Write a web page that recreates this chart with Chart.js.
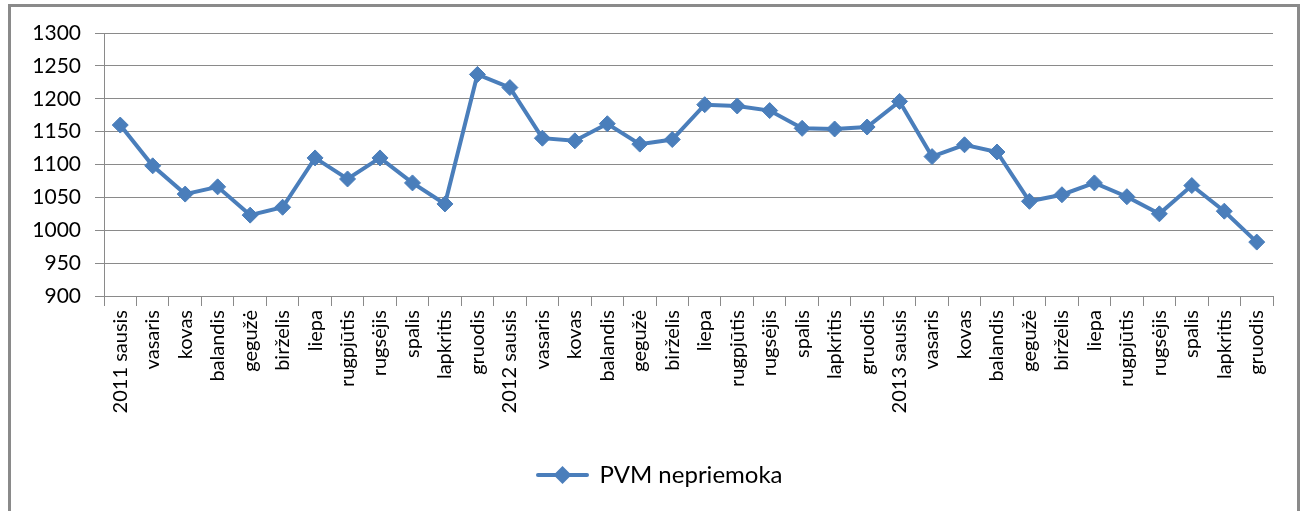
<!DOCTYPE html>
<html>
<head>
<meta charset="utf-8">
<script src="https://cdn.jsdelivr.net/npm/chart.js@4"></script>
<style>
  html, body { margin: 0; padding: 0; background: #fff; }
  body { width: 1307px; height: 511px; position: relative; overflow: hidden; }
  #frame { position: absolute; left: 8px; top: 4px; width: 1286px; height: 600px; border: 3px solid #8a8a8a; }
  #wrap { position: absolute; left: 11px; top: 0; width: 1296px; height: 511px; }
</style>
</head>
<body>
<div id="frame"></div>
<div id="wrap"><canvas id="pvm_chart"></canvas></div>
<script>
const months = ['sausis', 'vasaris', 'kovas', 'balandis', 'gegužė', 'birželis',
    'liepa', 'rugpjūtis', 'rugsėjis', 'spalis', 'lapkritis', 'gruodis'];
const years = ['2011', '2012', '2013'];

const labels = [];
years.forEach(year => {
    months.forEach((m, i) => {
        labels.push(i == 0 ? year + ' ' + m : m);
    });
});

const values = [
    1160, 1098, 1055, 1066, 1023, 1035, 1110, 1078, 1110, 1072, 1040, 1237,
    1217, 1140, 1136, 1162, 1131, 1138, 1191, 1189, 1182, 1155, 1154, 1157,
    1196, 1112, 1130, 1119, 1044, 1054, 1072, 1051, 1025, 1068, 1029, 982
];

const yTicks = [900, 950, 1000, 1050, 1100, 1150, 1200, 1250, 1300];

const blue = '#4a7ebb';

// legend symbol: line with a diamond in the middle
function legendSymbol(){
    const c = document.createElement('canvas');
    c.width = 53;
    c.height = 20;
    const g = c.getContext('2d');
    g.strokeStyle = blue;
    g.lineWidth = 4;
    g.lineCap = 'round';
    g.beginPath();
    g.moveTo(2, 10);
    g.lineTo(51, 10);
    g.stroke();
    g.fillStyle = blue;
    g.beginPath();
    g.moveTo(26.5, 1);
    g.lineTo(35.5, 10);
    g.lineTo(26.5, 19);
    g.lineTo(17.5, 10);
    g.closePath();
    g.fill();
    return c;
}

// nudge the legend a bit to the right, like in the original
const legendShift = {
    id: 'legendShift',
    afterLayout(chart){
        if(chart.legend){
            chart.legend.left += 18;
            chart.legend.right += 18;
        }
    }
};

Chart.defaults.color = '#000';

const ctx = document.getElementById('pvm_chart').getContext('2d');
const pvm_chart = new Chart(ctx, {
    type: 'line',
    data: {
        labels: labels,
        datasets: [{
            label: 'PVM nepriemoka',
            data: values,
            borderColor: blue,
            backgroundColor: blue,
            borderWidth: 4,
            pointStyle: 'rectRot',
            pointRadius: 8,
            pointBorderWidth: 1,
            pointBackgroundColor: blue,
            pointBorderColor: blue,
            fill: false,
            tension: 0
        }]
    },
    options: {
        responsive: true,
        maintainAspectRatio: false,
        animation: false,
        layout: {
            padding: { top: 33, right: 34, bottom: 14, left: 0 }
        },
        scales: {
            x: {
                offset: true,
                grid: {
                    offset: true,
                    drawOnChartArea: false,
                    drawTicks: true,
                    tickLength: 10,
                    color: '#8a8a8a'
                },
                border: { color: '#8a8a8a', width: 1 },
                ticks: {
                    font: { family: 'Lato', size: 20 },
                    color: '#000',
                    autoSkip: false,
                    minRotation: 90,
                    maxRotation: 90,
                    padding: 4
                },
                afterFit: function(scale){ scale.height = 159; }
            },
            y: {
                min: 900,
                max: 1300,
                afterBuildTicks: function(scale){
                    scale.ticks = yTicks.map(v => ({ value: v }));
                },
                grid: {
                    color: '#8a8a8a',
                    lineWidth: 1,
                    tickLength: 9
                },
                border: { color: '#8a8a8a', width: 1 },
                ticks: {
                    font: { family: 'Lato', size: 21 },
                    color: '#000',
                    padding: 14,
                    callback: function(value){ return String(value); }
                },
                afterFit: function(scale){ scale.width = 93; }
            }
        },
        plugins: {
            legend: {
                position: 'bottom',
                labels: {
                    font: { family: 'Lato', size: 24 },
                    color: '#000',
                    usePointStyle: true,
                    pointStyle: legendSymbol(),
                    pointStyleWidth: 50,
                    padding: 8
                }
            },
            tooltip: { enabled: false }
        }
    },
    plugins: [legendShift]
});
</script>
</body>
</html>
